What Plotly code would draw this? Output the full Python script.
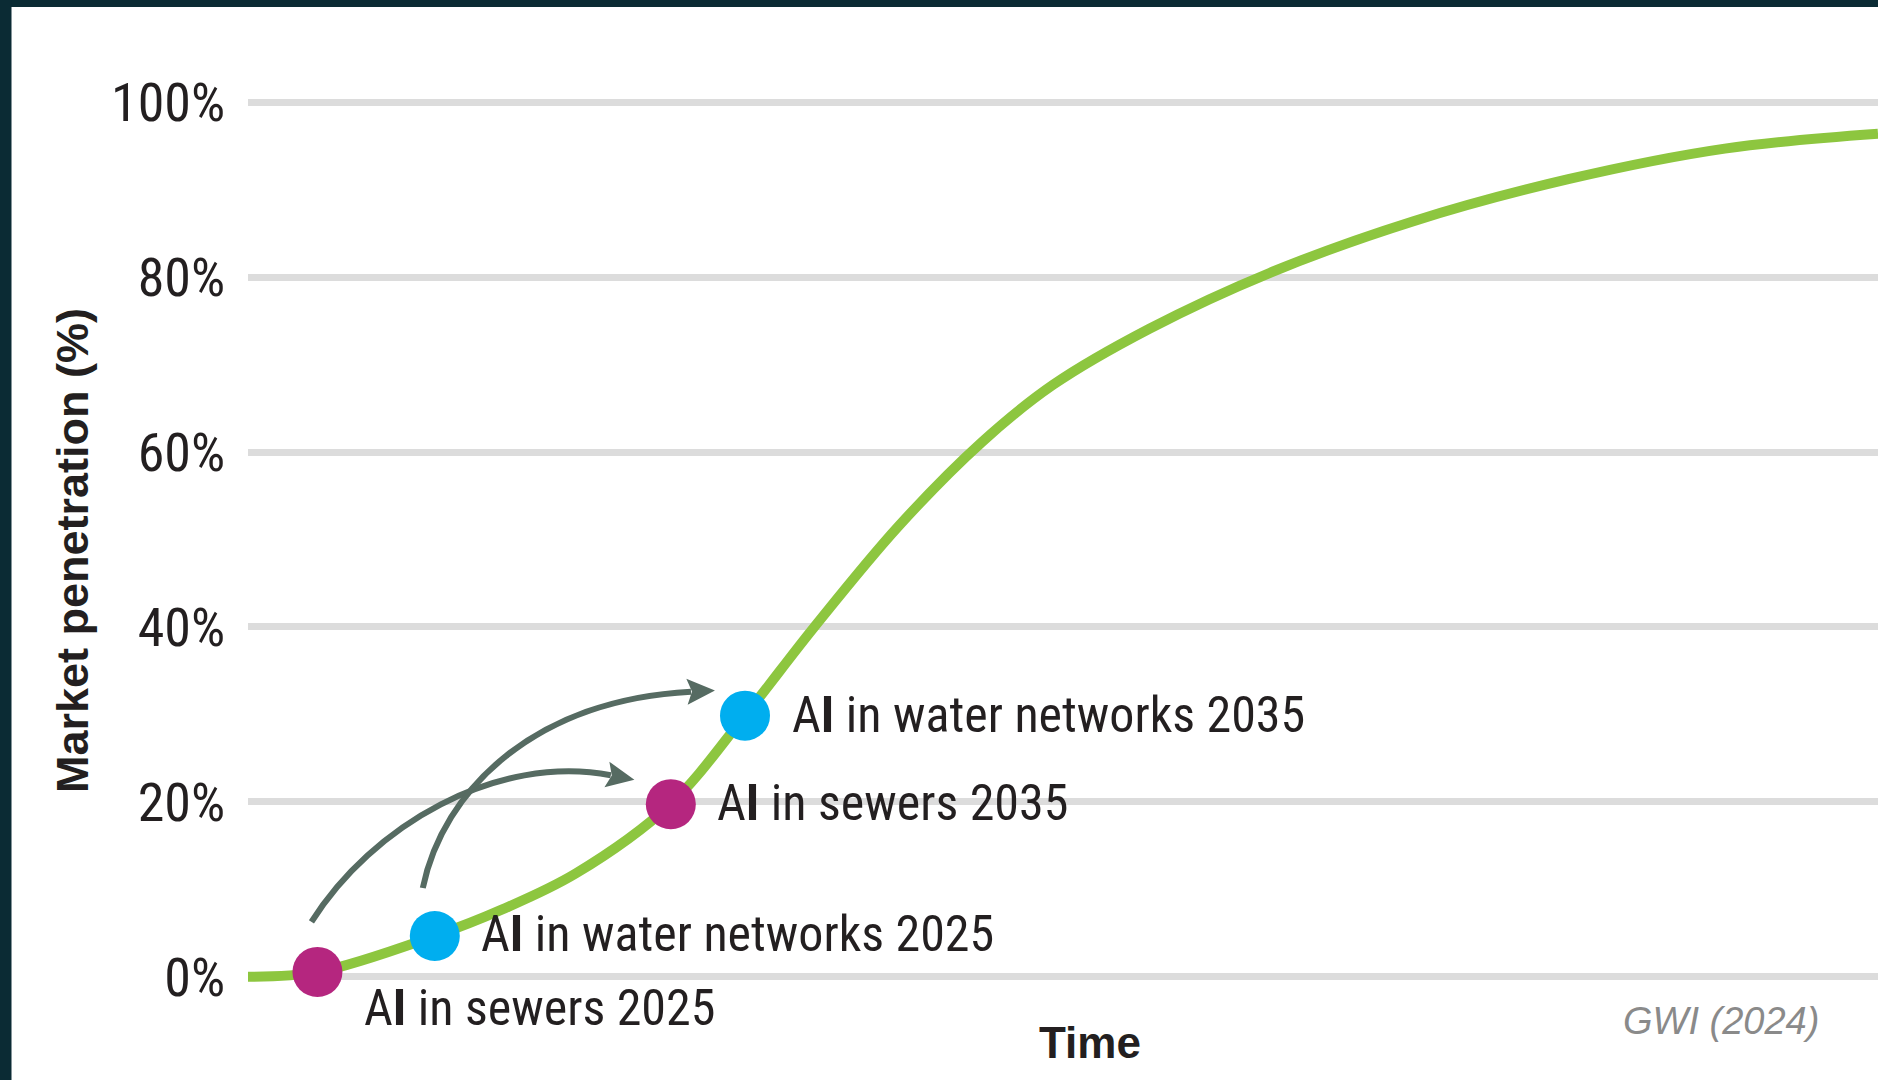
import math
import plotly.graph_objects as go

# ---------------- data ----------------
curve_x = [0, 4.3, 11.5, 15.6, 20.1, 25.9, 30.5, 34.7, 39.9, 45.0, 49.4, 55.3, 62.7, 71.5, 81.0, 90.6, 100]
curve_y = [0, 0.55, 4.7, 7.7, 11.8, 19.7, 29.9, 39.9, 51.5, 61.1, 67.7, 74.1, 80.5, 86.4, 91.2, 94.7, 96.4]

point_labels = ["A<b>I</b> in sewers 2025", "A<b>I</b> in water networks 2025",
                "A<b>I</b> in sewers 2035", "A<b>I</b> in water networks 2035"]
point_x = [4.26, 11.46, 25.94, 30.49]
point_y = [0.55, 4.66, 19.73, 29.86]
point_kind = ["sewers", "water", "sewers", "water"]

y_tick_vals = [0, 20, 40, 60, 80, 100]
y_tick_text = ["0%", "20%", "40%", "60%", "80%", "100%"]

y_title = "Market penetration (%)"
x_title = "Time"
source_text = "GWI (2024)"

# ---------------- style ----------------
W, H = 1878, 1080
ML, MR, MT, MB = 248, 0, 76, 77
XR = [0, 100]
YR = [-3, 103]
PW = W - ML - MR
PH = H - MT - MB

GREEN = "#8dc63f"
MAGENTA = "#b5267f"
CYAN = "#00aeef"
ARROW = "#566b62"
GRID = "#dcdcdc"
DARK = "#0b2b34"
TXT = "#231f20"
NARROW = "Roboto Condensed, Open Sans, Noto Sans, sans-serif"
SANS = "Liberation Sans, Arial, sans-serif"

kind_color = {"sewers": MAGENTA, "water": CYAN}


def x_to_px(x):
    return ML + (x - XR[0]) / (XR[1] - XR[0]) * PW


def y_to_py(y):
    return MT + (YR[1] - y) / (YR[1] - YR[0]) * PH


def px_to_x(px):
    return XR[0] + (px - ML) / PW * (XR[1] - XR[0])


def py_to_y(py):
    return YR[1] - (py - MT) / PH * (YR[1] - YR[0])


def paper_x(px):
    return (px - ML) / PW


def paper_y(py):
    return (H - MB - py) / PH


fig = go.Figure()

fig.add_trace(go.Scatter(
    x=curve_x, y=curve_y, mode="lines",
    line=dict(color=GREEN, width=10, shape="spline", smoothing=1.0),
    hoverinfo="skip", showlegend=False,
))

fig.add_trace(go.Scatter(
    x=point_x, y=point_y, mode="markers",
    marker=dict(size=50, color=[kind_color[k] for k in point_kind], line=dict(width=0)),
    cliponaxis=False, hoverinfo="skip", showlegend=False,
))

# labels next to points (pixel offsets)
label_shift = [(45, -36), (44, 2), (44, 1), (45, 1)]
annotations = []
for lx, ly, txt, (dx, dy) in zip(point_x, point_y, point_labels, label_shift):
    annotations.append(dict(
        x=lx, y=ly, xref="x", yref="y", text=txt, showarrow=False,
        xanchor="left", yanchor="middle", xshift=dx, yshift=dy,
        font=dict(family=NARROW, size=50, color=TXT),
    ))

# curved arrows from 2025 points to 2035 points (pixel offsets from markers)
arrow_defs = [
    # (from idx, to idx, start offset, ctrl1 rel start, ctrl2 rel end, end offset)
    (0, 2, (-6, -50), (60, -96), (-114, -22), (-60, -29)),
    (1, 3, (-12, -48), (20, -98), (-156, 8), (-54, -24)),
]
shapes = []
for i0, i1, so, c1, c2, eo in arrow_defs:
    sx = x_to_px(point_x[i0]) + so[0]
    sy = y_to_py(point_y[i0]) + so[1]
    ex = x_to_px(point_x[i1]) + eo[0]
    ey = y_to_py(point_y[i1]) + eo[1]
    c1x, c1y = sx + c1[0], sy + c1[1]
    c2x, c2y = ex + c2[0], ey + c2[1]
    path = "M {},{} C {},{} {},{} {},{}".format(
        px_to_x(sx), py_to_y(sy), px_to_x(c1x), py_to_y(c1y),
        px_to_x(c2x), py_to_y(c2y), px_to_x(ex), py_to_y(ey))
    shapes.append(dict(type="path", xref="x", yref="y", path=path,
                       line=dict(color=ARROW, width=6), layer="above"))
    # arrowhead (barbed)
    dx, dy = ex - c2x, ey - c2y
    n = math.hypot(dx, dy)
    ux, uy = dx / n, dy / n
    vx, vy = -uy, ux
    L, hw, notch = 24, 13, 5
    bx, by = ex - ux * 4, ey - uy * 4
    tip = (ex + ux * L, ey + uy * L)
    p1 = (bx + vx * hw, by + vy * hw)
    p2 = (bx - vx * hw, by - vy * hw)
    pn = (bx + ux * notch, by + uy * notch)
    tri = "M {},{} L {},{} L {},{} L {},{} Z".format(
        px_to_x(tip[0]), py_to_y(tip[1]), px_to_x(p1[0]), py_to_y(p1[1]),
        px_to_x(pn[0]), py_to_y(pn[1]), px_to_x(p2[0]), py_to_y(p2[1]))
    shapes.append(dict(type="path", xref="x", yref="y", path=tri,
                       fillcolor=ARROW, line=dict(width=0), layer="above"))

# dark frame strips (top and left)
shapes.append(dict(type="rect", xref="paper", yref="paper",
                   x0=paper_x(0), x1=paper_x(W), y0=paper_y(7), y1=paper_y(0),
                   fillcolor=DARK, line=dict(width=0), layer="above"))
shapes.append(dict(type="rect", xref="paper", yref="paper",
                   x0=paper_x(0), x1=paper_x(11.5), y0=paper_y(H), y1=paper_y(0),
                   fillcolor=DARK, line=dict(width=0), layer="above"))

# axis titles and source
annotations.append(dict(
    x=paper_x(72), y=paper_y(551), xref="paper", yref="paper", text="<b>" + y_title + "</b>",
    showarrow=False, textangle=-90, xanchor="center", yanchor="middle",
    font=dict(family=SANS, size=45, color=TXT),
))
annotations.append(dict(
    x=paper_x(1090), y=paper_y(1042), xref="paper", yref="paper", text="<b>" + x_title + "</b>",
    showarrow=False, xanchor="center", yanchor="middle",
    font=dict(family=SANS, size=44, color=TXT),
))
annotations.append(dict(
    x=paper_x(1821), y=paper_y(1021), xref="paper", yref="paper", text="<i>" + source_text + "</i>",
    showarrow=False, xanchor="right", yanchor="middle",
    font=dict(family=SANS, size=38, color="#8a8a8a"),
))

fig.update_layout(
    width=W, height=H,
    margin=dict(l=ML, r=MR, t=MT, b=MB, pad=0),
    paper_bgcolor="white", plot_bgcolor="white",
    showlegend=False,
    shapes=shapes, annotations=annotations,
    xaxis=dict(range=XR, showgrid=False, zeroline=False, showticklabels=False,
               showline=False, ticks="", fixedrange=True),
    yaxis=dict(range=YR, tickvals=y_tick_vals, ticktext=y_tick_text,
               showgrid=True, gridcolor=GRID, gridwidth=7, zeroline=False,
               showline=False, ticks="outside", ticklen=11, tickcolor="rgba(0,0,0,0)",
               tickfont=dict(family=NARROW, size=54, color=TXT),
               fixedrange=True),
)

fig.write_html("out.html", config={"displayModeBar": False},
               post_script="document.body.style.margin='0';document.body.style.overflow='hidden';")
